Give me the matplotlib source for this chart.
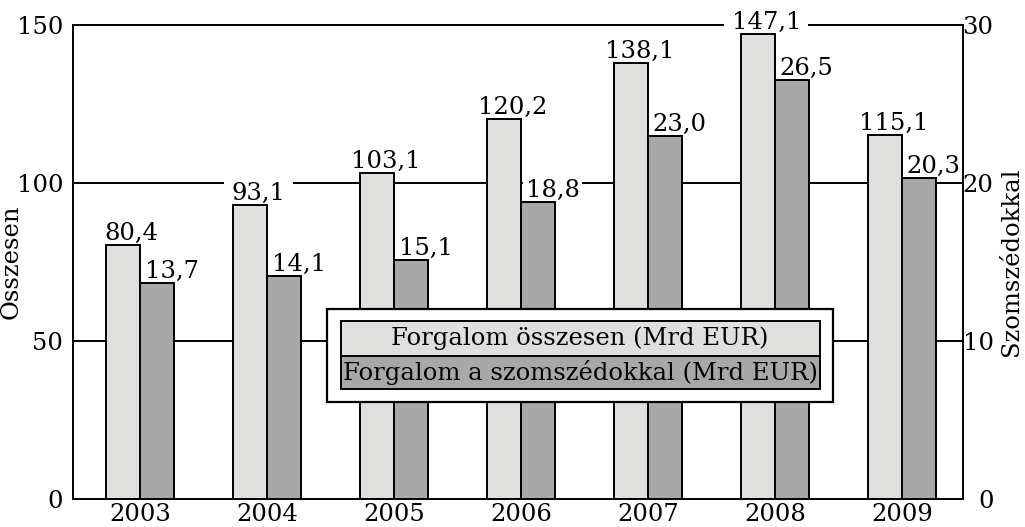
import matplotlib
matplotlib.use("Agg")
import matplotlib.pyplot as plt
from matplotlib.patches import Rectangle
import numpy as np

plt.rcParams["font.family"] = ["DejaVu Serif"]

years = ["2003", "2004", "2005", "2006", "2007", "2008", "2009"]
total = [80.4, 93.1, 103.1, 120.2, 138.1, 147.1, 115.1]
neighbours = [13.7, 14.1, 15.1, 18.8, 23.0, 26.5, 20.3]
left_ticks = [0, 50, 100, 150]
right_ticks = [0, 10, 20, 30]

LIGHT = "#dfe0dd"
DARK = "#a8a8a8"
FS = 17.5
LW = 1.4

W, H = 1025, 527
fig = plt.figure(figsize=(W / 100, H / 100), dpi=100)
ax = fig.add_axes([73 / W, 1 - 499 / H, 890 / W, 474 / H])
ax2 = ax.twinx()

x = np.arange(len(years))
bw = 0.267

ax.bar(x - bw / 2, total, bw, color=LIGHT, edgecolor="black", linewidth=LW, zorder=3)
ax2.bar(x + bw / 2, neighbours, bw, color=DARK, edgecolor="black", linewidth=LW, zorder=3)

ax.set_xlim(-0.528, 6.48)
ax.set_ylim(0, 150)
ax2.set_ylim(0, 30)
ax.set_yticks(left_ticks)
ax2.set_yticks(right_ticks)
ax.set_xticks(x)
ax.set_xticklabels(years)
for a in (ax, ax2):
    a.tick_params(length=0, labelsize=FS)
    for s in a.spines.values():
        s.set_linewidth(LW)
        s.set_zorder(4)
# each spine drawn once; the top one stays under the value labels
ax.spines["right"].set_visible(False)
for side in ["top", "left", "bottom"]:
    ax2.spines[side].set_visible(False)
ax.spines["top"].set_zorder(1)

ax.tick_params(axis="y", pad=7)
ax.tick_params(axis="x", pad=3)
ax2.tick_params(axis="y", pad=22)
for lab in ax2.get_yticklabels():
    lab.set_horizontalalignment("right")
for yv in [50, 100]:
    ax.axhline(yv, color="black", linewidth=LW, zorder=1)

ax.set_ylabel("Összesen", fontsize=FS)
ax.yaxis.set_label_coords(-0.069, 0.5)
ax.yaxis.label.set_va("center")
ax2.set_ylabel("Szomszédokkal", fontsize=FS)
ax2.yaxis.set_label_coords(1.054, 0.5)
ax2.yaxis.label.set_va("center")

# value labels sit under the bars (zorder) so their white boxes only hide the grid
for xi, v in zip(x, total):
    ax.annotate(f"{v:.1f}".replace(".", ","), (xi - bw / 2, v), xytext=(6, 3.6),
                textcoords="offset points", ha="center", va="baseline", fontsize=FS,
                bbox=dict(facecolor="white", edgecolor="none", boxstyle="square,pad=0.3"),
                zorder=2)
for xi, v in zip(x, neighbours):
    ax2.annotate(f"{v:.1f}".replace(".", ","), (xi + bw / 2, v), xytext=(10.5, 3.6),
                 textcoords="offset points", ha="center", va="baseline", fontsize=FS,
                 bbox=dict(facecolor="white", edgecolor="none", boxstyle="square,pad=0.1"),
                 zorder=2)

# legend drawn by hand: outer frame with two full-width colour rows
def fx(px):
    return px / W

def fy(py):
    return 1 - py / H

fig.add_artist(Rectangle((fx(327), fy(402)), fx(833) - fx(327), fy(309) - fy(402),
                         transform=fig.transFigure, facecolor="white",
                         edgecolor="black", linewidth=1.6, zorder=5))
rows = [("Forgalom összesen (Mrd EUR)", LIGHT, 321, 356),
        ("Forgalom a szomszédokkal (Mrd EUR)", DARK, 356, 389)]
for label, col, top, bot in rows:
    fig.add_artist(Rectangle((fx(341), fy(bot)), fx(820) - fx(341), fy(top) - fy(bot),
                             transform=fig.transFigure, facecolor=col,
                             edgecolor="black", linewidth=LW, zorder=6))
    fig.text(fx(580), fy((top + bot) / 2), label, ha="center", va="center",
             fontsize=FS, zorder=7)

fig.savefig("out.png", dpi=100)
